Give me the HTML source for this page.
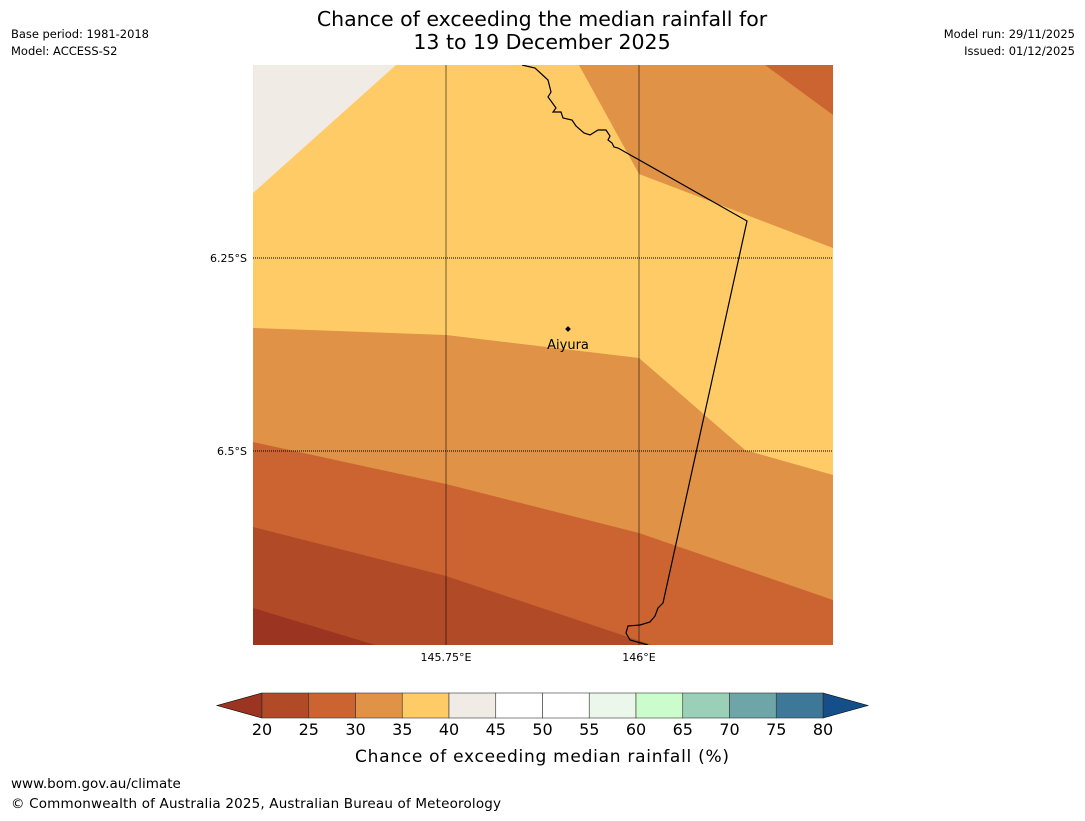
<!DOCTYPE html>
<html><head><meta charset="utf-8"><style>
body{margin:0;background:#fff;width:1085px;height:816px;overflow:hidden;font-family:"Liberation Sans","DejaVu Sans",sans-serif}
svg text{font-family:"DejaVu Sans","Liberation Sans",sans-serif}
</style></head><body>
<svg width="1085" height="816">
<text x="542" y="26" font-size="20.5" text-anchor="middle">Chance of exceeding the median rainfall for</text>
<text x="542" y="49" font-size="20.5" text-anchor="middle">13 to 19 December 2025</text>
<text x="11" y="38" font-size="11.5" textLength="138">Base period: 1981-2018</text>
<text x="11" y="55" font-size="11.5">Model: ACCESS-S2</text>
<text x="1075" y="38" font-size="11.5" text-anchor="end">Model run: 29/11/2025</text>
<text x="1075" y="55" font-size="11.5" text-anchor="end">Issued: 01/12/2025</text>
<defs><clipPath id="mc"><rect x="253" y="65" width="580" height="580"/></clipPath></defs>
<g clip-path="url(#mc)">
<rect x="253" y="65" width="580" height="580" fill="#fecb67"/>
<polygon fill="#f0ebe4" points="253,65 396,65 253,193"/>
<polygon fill="#e09246" points="579,65 833,65 833,248 639,174"/>
<polygon fill="#cc6431" points="765,65 833,65 833,115"/>
<polygon fill="#e09246" points="253,328 446,335 639,358 745,450 833,475 833,645 253,645"/>
<polygon fill="#cc6431" points="253,442 446,484 639,533 833,600 833,645 253,645"/>
<polygon fill="#b04a27" points="253,527 446,576 652,645 253,645"/>
<polygon fill="#9b3420" points="253,608 375,645 253,645"/>
<line x1="446" y1="65" x2="446" y2="645" stroke="#000" stroke-opacity="0.55" stroke-width="1"/>
<line x1="639" y1="65" x2="639" y2="645" stroke="#000" stroke-opacity="0.55" stroke-width="1"/>
<line x1="253" y1="258" x2="833" y2="258" stroke="#000" stroke-width="1" stroke-dasharray="1,1"/>
<line x1="253" y1="451" x2="833" y2="451" stroke="#000" stroke-width="1" stroke-dasharray="1,1"/>
<polyline fill="none" stroke="#000" stroke-width="1.2" points="522,65 535,68 548,80 551,92 548,97 551,101 556,108 553,112 561,112 563,118 572,120 576,126 584,133 590,135 598,130 606,130 610,136 608,140 612,143 614,147 618,148 747,221 663,603 658,608 655,616 650,622 640,625 628,626 626,633 630,640 648,645"/>
<rect x="566" y="327" width="4" height="4" fill="#000" transform="rotate(45 568 329)"/>
<text x="568" y="349" font-size="13" text-anchor="middle">Aiyura</text>
</g>
<text x="446" y="661" font-size="11" text-anchor="middle">145.75°E</text>
<text x="639" y="661" font-size="11" text-anchor="middle">146°E</text>
<text x="247" y="262" font-size="11" text-anchor="end">6.25°S</text>
<text x="247" y="455" font-size="11" text-anchor="end">6.5°S</text>
<g id="cbar"></g>
<text x="542" y="762" font-size="17" text-anchor="middle" textLength="374">Chance of exceeding median rainfall (%)</text>
<text x="11" y="788" font-size="13.5">www.bom.gov.au/climate</text>
<text x="11" y="808" font-size="13.5" textLength="490">© Commonwealth of Australia 2025, Australian Bureau of Meteorology</text>
</svg>
<script>
const levels=[20,25,30,35,40,45,50,55,60,65,70,75,80];
const colors=["#b04a27","#cc6431","#e09246","#fecb67","#f0ebe4","#ffffff","#ffffff","#eaf7ea","#cbfccb","#9ad0b8","#6ea5a8","#3e7899"];
const underColor="#9b3420", overColor="#154f8a";
const NS="http://www.w3.org/2000/svg";
const g=document.getElementById('cbar');
const x0=262,x1=823,y0=693,y1=718;
const xs=v=>x0+(v-levels[0])/(levels[levels.length-1]-levels[0])*(x1-x0);
function mk(t,a){const e=document.createElementNS(NS,t);for(const k in a)e.setAttribute(k,a[k]);g.appendChild(e);return e;}
const tl=mk('polygon',{points:`${x0},${y0} ${x0},${y1} 217,${(y0+y1)/2}`,fill:underColor,stroke:'#000','stroke-width':0.6});


const tr=mk('polygon',{points:`${x1},${y0} ${x1},${y1} 868,${(y0+y1)/2}`,fill:overColor,stroke:'#000','stroke-width':0.6});


for(let i=0;i<colors.length;i++){
 const r=mk('rect',{x:xs(levels[i]),y:y0,width:xs(levels[i+1])-xs(levels[i]),height:y1-y0,fill:colors[i],stroke:'#333','stroke-width':0.6});
 
 
}
levels.forEach(v=>{
 const t=mk('text',{x:xs(v),y:735,'font-size':16,'text-anchor':'middle'});
 t.textContent=v;
 
 
});
</script>
</body></html>
